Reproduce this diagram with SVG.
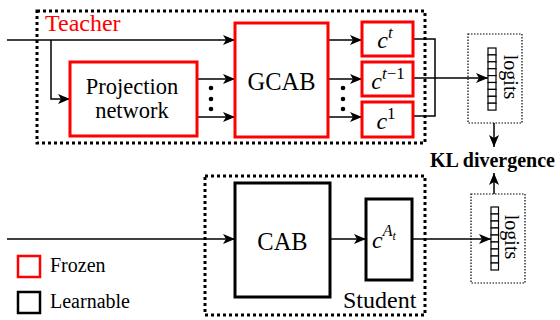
<svg xmlns="http://www.w3.org/2000/svg" width="560" height="320" viewBox="0 0 560 320">
<style>
.frozen{fill:#fff;stroke:#ff0000;stroke-width:3}
.learn{fill:#fff;stroke:#000;stroke-width:3}
.group{fill:none;stroke:#000;stroke-width:3;stroke-dasharray:3 3}
.lbox{fill:none;stroke:#000;stroke-width:1.2;stroke-dasharray:1.5 1.5}
.conn{fill:none;stroke:#000;stroke-width:1.5}
.arr{marker-end:url(#ah)}
.cell{fill:#fff;stroke:#000;stroke-width:1.2}
</style>
<defs>
<marker id="ah" markerUnits="userSpaceOnUse" markerWidth="13" markerHeight="11" refX="12" refY="5" orient="auto">
<path d="M0,0 L12,5 L0,10 L3,5 Z" fill="#000"/>
</marker>
</defs>
<rect width="560" height="320" fill="#fff"/>

<g id="teacher-group">
<rect class="group" x="37" y="11" width="388" height="132"/>
<text x="45" y="31" font-size="24" font-family="Liberation Serif, serif" fill="#ff0000">Teacher</text>
</g>
<g id="student-group">
<rect class="group" x="205" y="176" width="220" height="139"/>
<text x="343" y="308" font-size="24" font-family="Liberation Serif, serif">Student</text>
</g>

<g id="connectors">
<path class="conn arr" d="M7,40 H235"/>
<path class="conn arr" d="M51,40 V99 H70"/>
<path class="conn arr" d="M197,79 H235"/>
<path class="conn arr" d="M197,117 H235"/>
<path class="conn arr" d="M328,40 H362"/>
<path class="conn arr" d="M328,79 H362"/>
<path class="conn arr" d="M328,117 H362"/>
<path class="conn" d="M413,39 H435 V116 H413"/>
<path class="conn arr" d="M413,78 H488"/>
<path class="conn arr" d="M494,123 V147"/>
<path class="conn arr" d="M494,194 V173"/>
<path class="conn arr" d="M7,239 H235"/>
<path class="conn arr" d="M330,239 H366"/>
<path class="conn arr" d="M412,239 H491"/>
<g fill="#000">
<circle cx="211" cy="88" r="2.3"/><circle cx="211" cy="99" r="2.3"/><circle cx="211" cy="109" r="2.3"/>
<circle cx="343" cy="88" r="2.3"/><circle cx="343" cy="99" r="2.3"/><circle cx="343" cy="109" r="2.3"/>
</g>
</g>

<g id="projection">
<rect class="frozen" x="70" y="62" width="127" height="74"/>
<text x="132" y="94" font-size="22.5" font-family="Liberation Serif, serif" text-anchor="middle">Projection</text>
<text x="132" y="118" font-size="22.5" font-family="Liberation Serif, serif" text-anchor="middle">network</text>
</g>
<g id="gcab">
<rect class="frozen" x="235" y="23" width="93" height="114"/>
<text x="281.5" y="90" font-size="24.5" font-family="Liberation Serif, serif" text-anchor="middle">GCAB</text>
</g>
<g id="ct">
<rect class="frozen" x="362" y="22" width="51" height="34"/>
<text x="385" y="48" font-size="24" font-family="Liberation Serif, serif" font-style="italic" text-anchor="middle">c<tspan font-size="17" dy="-10">t</tspan></text>
</g>
<g id="ct1">
<rect class="frozen" x="362" y="62" width="51" height="34"/>
<text x="388" y="89" font-size="24" font-family="Liberation Serif, serif" font-style="italic" text-anchor="middle">c<tspan font-size="17" dy="-10">t</tspan><tspan font-size="17" font-style="normal">−1</tspan></text>
</g>
<g id="c1">
<rect class="frozen" x="362" y="102" width="51" height="35"/>
<text x="386" y="129" font-size="24" font-family="Liberation Serif, serif" font-style="italic" text-anchor="middle">c<tspan font-size="17" dy="-10" font-style="normal">1</tspan></text>
</g>

<g id="cab">
<rect class="learn" x="235" y="183" width="95" height="114"/>
<text x="282.5" y="250" font-size="24.5" font-family="Liberation Serif, serif" text-anchor="middle">CAB</text>
</g>
<g id="cat">
<rect class="learn" x="366" y="199" width="46" height="81"/>
<text x="372" y="248" font-size="24" font-family="Liberation Serif, serif" font-style="italic">c<tspan font-size="16" dy="-12">A</tspan><tspan font-size="12" dy="4">t</tspan></text>
</g>

<g id="logits-teacher">
<rect class="lbox" x="468" y="34" width="54" height="89"/>
<g>
<rect class="cell" x="488" y="48" width="8" height="6.9"/>
<rect class="cell" x="488" y="54.9" width="8" height="6.9"/>
<rect class="cell" x="488" y="61.8" width="8" height="6.9"/>
<rect class="cell" x="488" y="68.7" width="8" height="6.9"/>
<rect class="cell" x="488" y="75.6" width="8" height="6.9"/>
<rect class="cell" x="488" y="82.5" width="8" height="6.9"/>
<rect class="cell" x="488" y="89.4" width="8" height="6.9"/>
<rect class="cell" x="488" y="96.3" width="8" height="6.9"/>
<rect class="cell" x="488" y="103.2" width="8" height="6.9"/>
</g>
<text transform="translate(504,77) rotate(90)" font-size="20" font-family="Liberation Serif, serif" text-anchor="middle">logits</text>
</g>
<g id="logits-student">
<rect class="lbox" x="471" y="194" width="54" height="89"/>
<g>
<rect class="cell" x="491" y="207" width="7.5" height="7"/>
<rect class="cell" x="491" y="214" width="7.5" height="7"/>
<rect class="cell" x="491" y="221" width="7.5" height="7"/>
<rect class="cell" x="491" y="228" width="7.5" height="7"/>
<rect class="cell" x="491" y="235" width="7.5" height="7"/>
<rect class="cell" x="491" y="242" width="7.5" height="7"/>
<rect class="cell" x="491" y="249" width="7.5" height="7"/>
<rect class="cell" x="491" y="256" width="7.5" height="7"/>
<rect class="cell" x="491" y="263" width="7.5" height="7"/>
</g>
<text transform="translate(505,237) rotate(90)" font-size="20" font-family="Liberation Serif, serif" text-anchor="middle">logits</text>
</g>

<g id="kl">
<text x="430" y="167" font-size="20" font-family="Liberation Serif, serif" font-weight="bold">KL divergence</text>
</g>

<g id="legend">
<rect x="18" y="256" width="22" height="21" fill="#fff" stroke="#ff0000" stroke-width="2.5"/>
<text x="50" y="272" font-size="20" font-family="Liberation Serif, serif">Frozen</text>
<rect x="18" y="292" width="22" height="21" fill="#fff" stroke="#000" stroke-width="2.5"/>
<text x="50" y="308" font-size="20" font-family="Liberation Serif, serif">Learnable</text>
</g>
</svg>
